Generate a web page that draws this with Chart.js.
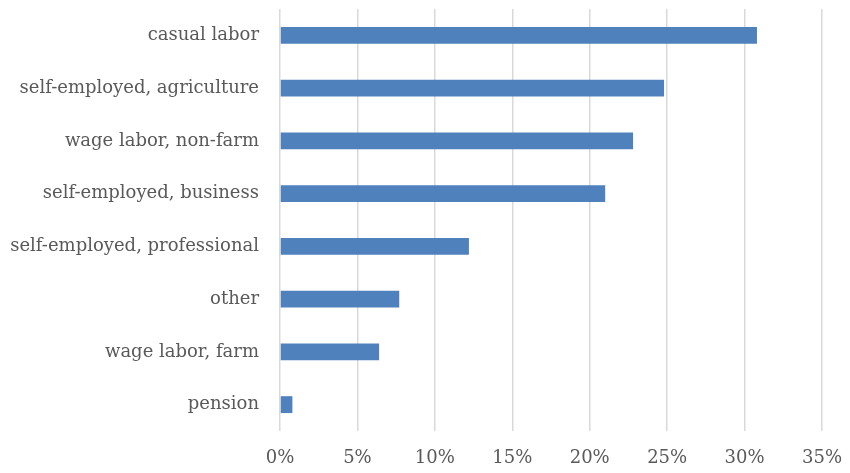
<!DOCTYPE html>
<html>
<head>
<meta charset="utf-8">
<script src="https://cdn.jsdelivr.net/npm/chart.js@4.4.1/dist/chart.umd.min.js"></script>
<style>
  html, body { margin: 0; padding: 0; background: #ffffff; }
  #wrap { width: 850px; height: 473px; }
</style>
</head>
<body>
<div id="wrap"><canvas id="incomeChart"></canvas></div>
<script>
// income source shares, largest first
const sources = [
  "casual labor",
  "self-employed, agriculture",
  "wage labor, non-farm",
  "self-employed, business",
  "self-employed, professional",
  "other",
  "wage labor, farm",
  "pension"
];
const shares = [30.8, 24.8, 22.8, 21.0, 12.2, 7.7, 6.4, 0.8];
const pctTicks = [0, 5, 10, 15, 20, 25, 30, 35];

const data = {
  labels: sources,
  datasets: [
    {
      label: "Share",
      data: shares,
      backgroundColor: "#4f81bd",
      borderWidth: 0,
      barPercentage: 0.32,
      categoryPercentage: 1
    }
  ]
};

const config = {
  type: 'bar',
  data: data,
  options: {
    indexAxis: 'y',
    responsive: true,
    maintainAspectRatio: false,
    animation: false,
    layout: {
      padding: { left: 0, right: 28, top: 9, bottom: 3 }
    },
    plugins: {
      legend: { display: false },
      title: { display: false },
      tooltip: { enabled: false }
    },
    scales: {
      x: {
        min: 0,
        max: 35,
        afterBuildTicks: (scale) => {
          scale.ticks = pctTicks.map(v => ({ value: v }));
        },
        // keep the plot edges where the layout padding puts them
        afterFit: (scale) => {
          scale.height = 39;
          scale.paddingLeft = 0;
          scale.paddingRight = 0;
        },
        grid: {
          color: "#d9d9d9",
          lineWidth: 1.5,
          drawTicks: false
        },
        border: { display: false },
        ticks: {
          padding: 17,
          color: "#595959",
          font: { family: "'DejaVu Serif', serif", size: 18 },
          callback: (v) => v + "%"
        }
      },
      y: {
        afterFit: (scale) => {
          scale.width = 280;
          scale.paddingTop = 0;
          scale.paddingBottom = 0;
        },
        grid: { display: false, drawTicks: false },
        border: { display: false },
        ticks: {
          padding: 21,
          color: "#595959",
          font: { family: "'DejaVu Serif', serif", size: 18 }
        }
      }
    }
  }
};

const incomeChart = new Chart(
  document.getElementById('incomeChart'),
  config
);
</script>
</body>
</html>
